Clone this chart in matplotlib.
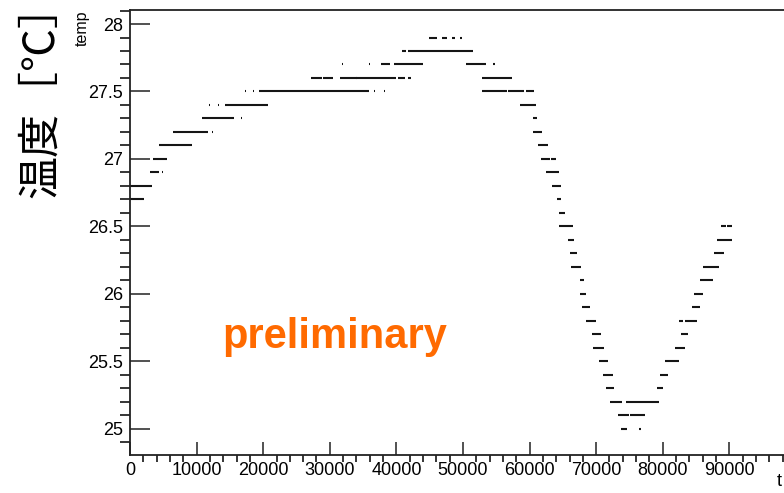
import matplotlib
matplotlib.use("Agg")
import matplotlib.pyplot as plt
from matplotlib.ticker import MultipleLocator

# temperature readings (0.1 degC steps), stored as runs of constant value
seg_temp = [
    26.8, 26.7, 26.9, 26.9, 27.0, 27.1, 27.2, 27.2, 27.3, 27.3,
    27.4, 27.4, 27.4, 27.5, 27.5, 27.5, 27.5, 27.5,
    27.6, 27.6, 27.6, 27.6, 27.6, 27.6,
    27.7, 27.7, 27.7, 27.7, 27.7, 27.7,
    27.8, 27.8, 27.8,
    27.9, 27.9, 27.9, 27.9,
    27.7, 27.7, 27.6, 27.5, 27.5, 27.5, 27.4, 27.3, 27.2, 27.1,
    27.0, 27.0, 26.9, 26.8, 26.7, 26.6, 26.5, 26.4, 26.3, 26.2,
    26.1, 26.0, 25.9, 25.8, 25.7, 25.6, 25.5, 25.4, 25.3,
    25.2, 25.2, 25.1, 25.1, 25.0, 25.0,
    25.3, 25.4, 25.5, 25.6, 25.7, 25.8, 25.8, 25.9, 26.0, 26.1,
    26.2, 26.3, 26.4, 26.5, 26.5,
]
seg_start = [
    0, 0, 3000, 4800, 3500, 4350, 6500, 12300, 10770, 16700,
    11850, 13250, 14260, 17200, 18400, 19410, 36700, 38100,
    27180, 29000, 31530, 40290, 41740, 34000,
    31900, 35880, 37640, 39640, 50450, 54550,
    38550, 40840, 41790,
    44940, 46890, 48300, 49550,
    39500, 44100, 52810, 52810, 56760, 59460, 58560, 60560, 60560, 61260,
    61790, 63210, 62490, 63410, 64110, 64460, 64460, 65720, 66070, 66250,
    67570, 67540, 67870, 68470, 69370, 69520, 70420, 70980, 71470,
    72070, 74430, 73270, 75080, 73680, 76380,
    79080, 79580, 80330, 81790, 82690, 82480, 83380, 84340, 84680, 85590,
    86080, 87720, 88090, 88780, 89600,
]
seg_end = [
    3300, 2100, 4400, 4950, 5500, 9260, 11760, 12500, 15660, 16850,
    11950, 13350, 20680, 17350, 18550, 35930, 36850, 38250,
    28800, 30480, 39900, 41290, 42150, 34100,
    32000, 35980, 39040, 44040, 53450, 54850,
    38650, 41400, 51550,
    46140, 47550, 48800, 49850,
    39550, 44150, 57400, 56560, 59110, 60700, 60920, 61060, 61820, 62720,
    63090, 63960, 64370, 64710, 64680, 65270, 66470, 66670, 67070, 67760,
    68120, 68470, 69030, 69930, 70680, 71170, 71730, 72480, 72630,
    73920, 79470, 74920, 77330, 74580, 76730,
    80030, 80740, 82390, 83290, 83830, 83080, 85090, 85590, 85990, 87580,
    88480, 89220, 90340, 89500, 90390,
]

plt.rcParams["font.family"] = ["Liberation Sans", "DejaVu Sans"]

fig = plt.figure(figsize=(7.84, 4.93), dpi=100)
# frame runs slightly past the right edge of the canvas
ax = fig.add_axes([130 / 784, 38 / 493, 659.3 / 784, 445 / 493])

ax.hlines(seg_temp, seg_start, seg_end, colors="#151515", linewidth=1.5,
          capstyle="butt")

ax.set_xlim(0, 99000)
ax.set_ylim(24.805, 28.104)

ax.xaxis.set_major_locator(MultipleLocator(10000))
ax.xaxis.set_minor_locator(MultipleLocator(2000))
ax.yaxis.set_minor_locator(MultipleLocator(0.1))
ax.set_yticks([25, 25.5, 26, 26.5, 27, 27.5, 28])
ax.set_yticklabels(["25", "25.5", "26", "26.5", "27", "27.5", "28"])

ax.tick_params(axis="both", direction="in", colors="#222222",
               labelcolor="black", labelsize=13, width=1.1)
ax.tick_params(axis="y", which="major", length=14.5, pad=5)
ax.tick_params(axis="y", which="minor", length=7.2, width=1.1)
ax.tick_params(axis="x", which="major", length=9.5, pad=5)
ax.tick_params(axis="x", which="minor", length=5, width=1.1)

for side in ["left", "bottom", "top"]:
    ax.spines[side].set_color("#222222")
    ax.spines[side].set_linewidth(1.3)
ax.spines["right"].set_visible(False)

# axis titles
fig.text(82.5 / 784, 1 - 11 / 493, "temp", rotation=90, ha="center",
         va="top", fontsize=11.5)
fig.text(779 / 784, 1 - 482 / 493, "t", ha="center", va="center",
         fontsize=13)
fig.text(41 / 784, 1 - 90 / 493, "温度［℃］", rotation=90, ha="center",
         va="center", fontsize=31,
         family=["Noto Sans CJK JP", "DejaVu Sans"])

ax.text(13800, 25.6, "preliminary", color="#ff6a00", fontsize=30,
        fontweight="bold", va="baseline", ha="left")

fig.savefig("out.png", dpi=100)
